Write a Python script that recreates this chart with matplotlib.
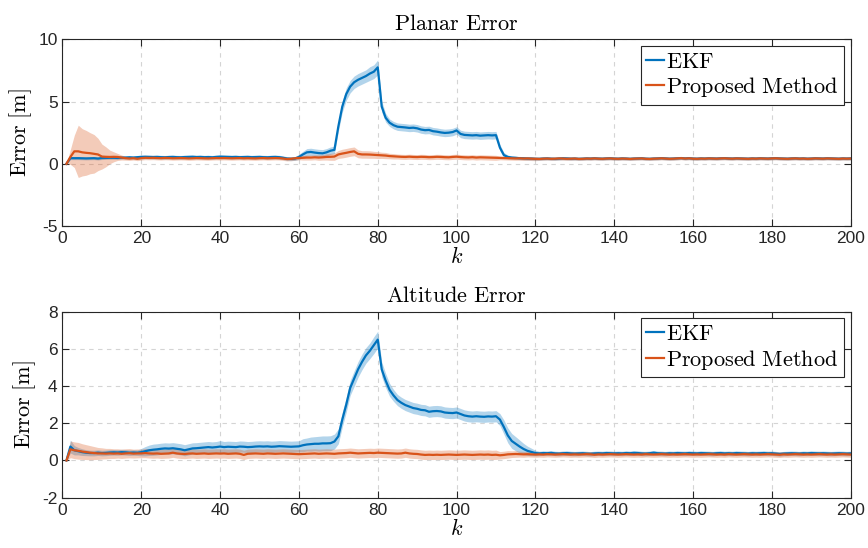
import numpy as np
import matplotlib
matplotlib.use('Agg')
import matplotlib.pyplot as plt

# time steps k = 1..200
k = np.arange(1, 201)

# -------- Planar error --------
planar_ekf = [
    0.00, 0.45, 0.45, 0.45, 0.44, 0.43, 0.44, 0.45, 0.42, 0.46, 0.47, 0.48, 0.48, 0.47, 0.49, 0.50, 0.52, 0.50, 0.53, 0.55,
    0.56, 0.55, 0.54, 0.55, 0.53, 0.52, 0.54, 0.55, 0.53, 0.52, 0.54, 0.55, 0.56, 0.54, 0.55, 0.53, 0.54, 0.52, 0.55, 0.57,
    0.56, 0.55, 0.54, 0.55, 0.53, 0.54, 0.55, 0.53, 0.54, 0.55, 0.53, 0.52, 0.54, 0.55, 0.53, 0.48, 0.42, 0.40, 0.42, 0.55,
    0.75, 0.92, 0.95, 0.90, 0.86, 0.84, 0.92, 1.05, 1.12, 3.00, 4.60, 5.60, 6.20, 6.55, 6.75, 6.90, 7.05, 7.25, 7.40, 7.75,
    4.60, 3.70, 3.30, 3.10, 2.98, 2.95, 2.92, 2.88, 2.90, 2.85, 2.75, 2.70, 2.72, 2.62, 2.58, 2.52, 2.48, 2.50, 2.55, 2.68,
    2.40, 2.32, 2.30, 2.28, 2.30, 2.26, 2.28, 2.30, 2.28, 2.30, 1.30, 0.70, 0.55, 0.50, 0.48, 0.45, 0.44, 0.42, 0.42, 0.40,
    0.40, 0.42, 0.43, 0.41, 0.40, 0.42, 0.44, 0.43, 0.41, 0.42, 0.40, 0.41, 0.43, 0.42, 0.44, 0.42, 0.41, 0.43, 0.44, 0.42,
    0.41, 0.43, 0.42, 0.40, 0.42, 0.43, 0.44, 0.41, 0.40, 0.42, 0.43, 0.45, 0.43, 0.41, 0.42, 0.44, 0.46, 0.43, 0.45, 0.42,
    0.41, 0.43, 0.42, 0.44, 0.43, 0.42, 0.44, 0.45, 0.43, 0.42, 0.44, 0.43, 0.42, 0.41, 0.43, 0.42, 0.44, 0.43, 0.42, 0.44,
    0.45, 0.43, 0.42, 0.41, 0.43, 0.44, 0.42, 0.43, 0.41, 0.42, 0.44, 0.43, 0.42, 0.44, 0.43, 0.42, 0.41, 0.43, 0.42, 0.43,
]
planar_ekf_band = [
    0.00, 0.12, 0.12, 0.12, 0.12, 0.12, 0.12, 0.12, 0.12, 0.12, 0.12, 0.12, 0.12, 0.12, 0.12, 0.12, 0.13, 0.13, 0.14, 0.15,
    0.15, 0.15, 0.15, 0.15, 0.15, 0.15, 0.15, 0.15, 0.15, 0.15, 0.15, 0.15, 0.15, 0.15, 0.15, 0.15, 0.15, 0.15, 0.15, 0.15,
    0.15, 0.15, 0.15, 0.15, 0.15, 0.15, 0.15, 0.15, 0.15, 0.15, 0.15, 0.15, 0.15, 0.15, 0.15, 0.15, 0.15, 0.15, 0.15, 0.20,
    0.25, 0.30, 0.30, 0.30, 0.30, 0.30, 0.30, 0.30, 0.30, 0.40, 0.45, 0.50, 0.50, 0.50, 0.50, 0.50, 0.50, 0.55, 0.55, 0.60,
    0.45, 0.35, 0.30, 0.30, 0.30, 0.30, 0.30, 0.30, 0.30, 0.30, 0.30, 0.30, 0.30, 0.30, 0.30, 0.30, 0.30, 0.30, 0.30, 0.30,
    0.30, 0.30, 0.30, 0.30, 0.30, 0.30, 0.30, 0.30, 0.30, 0.30, 0.25, 0.20, 0.15, 0.12, 0.12, 0.12, 0.12, 0.12, 0.12, 0.12,
    0.12, 0.12, 0.12, 0.12, 0.12, 0.12, 0.12, 0.12, 0.12, 0.12, 0.12, 0.12, 0.12, 0.12, 0.12, 0.12, 0.12, 0.12, 0.12, 0.12,
    0.12, 0.12, 0.12, 0.12, 0.12, 0.12, 0.12, 0.12, 0.12, 0.12, 0.12, 0.12, 0.12, 0.12, 0.12, 0.12, 0.12, 0.12, 0.12, 0.12,
    0.12, 0.12, 0.12, 0.12, 0.12, 0.12, 0.12, 0.12, 0.12, 0.12, 0.12, 0.12, 0.12, 0.12, 0.12, 0.12, 0.12, 0.12, 0.12, 0.12,
    0.12, 0.12, 0.12, 0.12, 0.12, 0.12, 0.12, 0.12, 0.12, 0.12, 0.12, 0.12, 0.12, 0.12, 0.12, 0.12, 0.12, 0.12, 0.12, 0.12,
]
planar_prop = [
    0.00, 0.55, 1.00, 1.00, 0.92, 0.88, 0.85, 0.80, 0.75, 0.58, 0.56, 0.55, 0.56, 0.55, 0.50, 0.45, 0.42, 0.45, 0.40, 0.45,
    0.48, 0.47, 0.48, 0.46, 0.45, 0.47, 0.46, 0.44, 0.45, 0.46, 0.45, 0.43, 0.44, 0.46, 0.45, 0.44, 0.43, 0.45, 0.46, 0.45,
    0.46, 0.45, 0.44, 0.45, 0.46, 0.44, 0.45, 0.44, 0.43, 0.45, 0.46, 0.44, 0.45, 0.46, 0.45, 0.42, 0.38, 0.40, 0.44, 0.47,
    0.48, 0.50, 0.50, 0.52, 0.50, 0.52, 0.55, 0.56, 0.58, 0.75, 0.82, 0.88, 0.95, 1.00, 0.80, 0.75, 0.75, 0.74, 0.72, 0.70,
    0.68, 0.66, 0.62, 0.60, 0.58, 0.56, 0.55, 0.57, 0.55, 0.54, 0.56, 0.55, 0.53, 0.54, 0.56, 0.55, 0.53, 0.52, 0.55, 0.57,
    0.54, 0.52, 0.51, 0.53, 0.50, 0.52, 0.51, 0.50, 0.49, 0.48, 0.47, 0.46, 0.45, 0.44, 0.43, 0.44, 0.42, 0.43, 0.41, 0.40,
    0.39, 0.41, 0.42, 0.40, 0.41, 0.43, 0.42, 0.40, 0.41, 0.42, 0.39, 0.40, 0.42, 0.41, 0.43, 0.41, 0.40, 0.42, 0.43, 0.41,
    0.40, 0.42, 0.41, 0.39, 0.41, 0.42, 0.43, 0.40, 0.39, 0.41, 0.42, 0.44, 0.42, 0.40, 0.41, 0.43, 0.45, 0.42, 0.44, 0.41,
    0.40, 0.42, 0.41, 0.43, 0.42, 0.41, 0.43, 0.44, 0.42, 0.41, 0.43, 0.42, 0.41, 0.40, 0.42, 0.41, 0.43, 0.42, 0.41, 0.43,
    0.44, 0.42, 0.41, 0.40, 0.42, 0.43, 0.41, 0.42, 0.40, 0.41, 0.43, 0.42, 0.41, 0.43, 0.42, 0.41, 0.40, 0.42, 0.41, 0.42,
]
planar_prop_band = [
    0.00, 0.60, 1.30, 2.10, 1.90, 1.80, 1.65, 1.55, 1.30, 1.00, 0.80, 0.55, 0.40, 0.28, 0.20, 0.16, 0.15, 0.15, 0.15, 0.15,
    0.15, 0.15, 0.15, 0.15, 0.15, 0.15, 0.15, 0.15, 0.15, 0.15, 0.15, 0.15, 0.15, 0.15, 0.15, 0.15, 0.15, 0.15, 0.15, 0.15,
    0.15, 0.15, 0.15, 0.15, 0.15, 0.15, 0.15, 0.15, 0.15, 0.15, 0.15, 0.15, 0.15, 0.15, 0.15, 0.15, 0.15, 0.15, 0.15, 0.15,
    0.18, 0.20, 0.20, 0.20, 0.22, 0.22, 0.25, 0.28, 0.30, 0.32, 0.35, 0.35, 0.35, 0.35, 0.32, 0.30, 0.30, 0.30, 0.28, 0.28,
    0.25, 0.25, 0.22, 0.22, 0.20, 0.20, 0.20, 0.20, 0.20, 0.20, 0.20, 0.20, 0.20, 0.20, 0.20, 0.20, 0.20, 0.20, 0.20, 0.20,
    0.20, 0.20, 0.20, 0.20, 0.20, 0.20, 0.20, 0.20, 0.20, 0.20, 0.15, 0.15, 0.15, 0.15, 0.15, 0.15, 0.15, 0.15, 0.15, 0.15,
    0.12, 0.12, 0.12, 0.12, 0.12, 0.12, 0.12, 0.12, 0.12, 0.12, 0.12, 0.12, 0.12, 0.12, 0.12, 0.12, 0.12, 0.12, 0.12, 0.12,
    0.12, 0.12, 0.12, 0.12, 0.12, 0.12, 0.12, 0.12, 0.12, 0.12, 0.12, 0.12, 0.12, 0.12, 0.12, 0.12, 0.12, 0.12, 0.12, 0.12,
    0.12, 0.12, 0.12, 0.12, 0.12, 0.12, 0.12, 0.12, 0.12, 0.12, 0.12, 0.12, 0.12, 0.12, 0.12, 0.12, 0.12, 0.12, 0.12, 0.12,
    0.12, 0.12, 0.12, 0.12, 0.12, 0.12, 0.12, 0.12, 0.12, 0.12, 0.12, 0.12, 0.12, 0.12, 0.12, 0.12, 0.12, 0.12, 0.12, 0.12,
]

# -------- Altitude error --------
alt_ekf = [
    0.00, 0.75, 0.55, 0.50, 0.45, 0.42, 0.40, 0.40, 0.42, 0.40, 0.41, 0.43, 0.44, 0.43, 0.45, 0.44, 0.42, 0.43, 0.42, 0.45,
    0.50, 0.55, 0.58, 0.60, 0.63, 0.65, 0.64, 0.66, 0.63, 0.60, 0.55, 0.60, 0.65, 0.66, 0.68, 0.70, 0.72, 0.70, 0.72, 0.75,
    0.72, 0.74, 0.73, 0.72, 0.75, 0.74, 0.72, 0.73, 0.75, 0.76, 0.75, 0.76, 0.74, 0.75, 0.77, 0.76, 0.75, 0.74, 0.75, 0.76,
    0.82, 0.86, 0.88, 0.90, 0.90, 0.92, 0.92, 0.93, 1.02, 1.30, 2.20, 3.00, 3.90, 4.40, 4.90, 5.30, 5.65, 5.90, 6.20, 6.50,
    4.90, 4.30, 3.80, 3.50, 3.25, 3.10, 2.98, 2.90, 2.82, 2.78, 2.72, 2.70, 2.62, 2.65, 2.66, 2.64, 2.58, 2.56, 2.55, 2.58,
    2.50, 2.42, 2.38, 2.36, 2.38, 2.36, 2.35, 2.37, 2.36, 2.38, 2.20, 1.80, 1.35, 1.05, 0.90, 0.75, 0.62, 0.52, 0.46, 0.40,
    0.38, 0.40, 0.39, 0.41, 0.38, 0.37, 0.39, 0.40, 0.38, 0.37, 0.38, 0.39, 0.37, 0.36, 0.38, 0.39, 0.38, 0.40, 0.39, 0.38,
    0.39, 0.38, 0.40, 0.39, 0.41, 0.40, 0.38, 0.37, 0.39, 0.42, 0.39, 0.38, 0.37, 0.39, 0.38, 0.40, 0.39, 0.38, 0.40, 0.39,
    0.38, 0.40, 0.39, 0.38, 0.37, 0.39, 0.40, 0.38, 0.39, 0.38, 0.40, 0.39, 0.38, 0.37, 0.39, 0.38, 0.39, 0.40, 0.38, 0.39,
    0.37, 0.35, 0.37, 0.38, 0.39, 0.38, 0.37, 0.39, 0.38, 0.40, 0.39, 0.38, 0.39, 0.38, 0.37, 0.38, 0.39, 0.38, 0.37, 0.38,
]
alt_ekf_band = [
    0.00, 0.35, 0.25, 0.20, 0.18, 0.16, 0.15, 0.15, 0.15, 0.15, 0.15, 0.15, 0.15, 0.15, 0.15, 0.15, 0.15, 0.15, 0.15, 0.20,
    0.25, 0.28, 0.30, 0.30, 0.30, 0.30, 0.30, 0.30, 0.30, 0.30, 0.30, 0.30, 0.30, 0.30, 0.30, 0.30, 0.30, 0.30, 0.30, 0.32,
    0.30, 0.30, 0.30, 0.30, 0.30, 0.30, 0.30, 0.30, 0.30, 0.30, 0.30, 0.30, 0.30, 0.30, 0.30, 0.30, 0.30, 0.30, 0.30, 0.30,
    0.35, 0.35, 0.38, 0.38, 0.40, 0.40, 0.40, 0.40, 0.40, 0.40, 0.40, 0.40, 0.40, 0.42, 0.42, 0.42, 0.42, 0.42, 0.45, 0.45,
    0.40, 0.38, 0.35, 0.32, 0.30, 0.30, 0.30, 0.30, 0.30, 0.30, 0.30, 0.30, 0.30, 0.30, 0.30, 0.30, 0.30, 0.30, 0.30, 0.30,
    0.30, 0.30, 0.30, 0.30, 0.30, 0.30, 0.30, 0.30, 0.30, 0.30, 0.32, 0.38, 0.40, 0.40, 0.38, 0.35, 0.30, 0.25, 0.20, 0.15,
    0.12, 0.12, 0.12, 0.12, 0.12, 0.12, 0.12, 0.12, 0.12, 0.12, 0.12, 0.12, 0.12, 0.12, 0.12, 0.12, 0.12, 0.12, 0.12, 0.12,
    0.12, 0.12, 0.12, 0.12, 0.12, 0.12, 0.12, 0.12, 0.12, 0.12, 0.12, 0.12, 0.12, 0.12, 0.12, 0.12, 0.12, 0.12, 0.12, 0.12,
    0.12, 0.12, 0.12, 0.12, 0.12, 0.12, 0.12, 0.12, 0.12, 0.12, 0.12, 0.12, 0.12, 0.12, 0.12, 0.12, 0.12, 0.12, 0.12, 0.12,
    0.12, 0.12, 0.12, 0.12, 0.12, 0.12, 0.12, 0.12, 0.12, 0.12, 0.12, 0.12, 0.12, 0.12, 0.12, 0.12, 0.12, 0.12, 0.12, 0.12,
]
alt_prop = [
    0.00, 0.60, 0.55, 0.52, 0.48, 0.45, 0.42, 0.40, 0.38, 0.38, 0.37, 0.38, 0.37, 0.38, 0.36, 0.38, 0.39, 0.37, 0.38, 0.38,
    0.40, 0.38, 0.37, 0.38, 0.36, 0.37, 0.38, 0.42, 0.38, 0.36, 0.35, 0.37, 0.38, 0.36, 0.37, 0.38, 0.36, 0.37, 0.38, 0.37,
    0.38, 0.36, 0.37, 0.38, 0.36, 0.30, 0.36, 0.37, 0.38, 0.37, 0.36, 0.38, 0.37, 0.36, 0.37, 0.38, 0.37, 0.36, 0.35, 0.34,
    0.35, 0.36, 0.37, 0.38, 0.36, 0.37, 0.38, 0.37, 0.36, 0.38, 0.39, 0.40, 0.42, 0.40, 0.38, 0.39, 0.40, 0.41, 0.40, 0.42,
    0.41, 0.40, 0.39, 0.38, 0.37, 0.38, 0.42, 0.38, 0.36, 0.35, 0.32, 0.30, 0.31, 0.30, 0.31, 0.30, 0.31, 0.32, 0.31, 0.30,
    0.31, 0.32, 0.31, 0.30, 0.31, 0.32, 0.31, 0.32, 0.30, 0.31, 0.28, 0.30, 0.33, 0.34, 0.35, 0.34, 0.33, 0.34, 0.33, 0.32,
    0.33, 0.32, 0.34, 0.33, 0.32, 0.33, 0.34, 0.33, 0.32, 0.33, 0.32, 0.33, 0.34, 0.33, 0.31, 0.33, 0.32, 0.33, 0.34, 0.33,
    0.32, 0.33, 0.34, 0.33, 0.32, 0.33, 0.32, 0.34, 0.33, 0.32, 0.33, 0.34, 0.33, 0.32, 0.33, 0.32, 0.33, 0.34, 0.33, 0.32,
    0.33, 0.32, 0.33, 0.34, 0.33, 0.32, 0.33, 0.32, 0.34, 0.33, 0.32, 0.33, 0.34, 0.33, 0.32, 0.33, 0.32, 0.33, 0.34, 0.33,
    0.32, 0.31, 0.33, 0.32, 0.33, 0.34, 0.33, 0.32, 0.33, 0.32, 0.33, 0.34, 0.33, 0.32, 0.33, 0.32, 0.33, 0.34, 0.33, 0.32,
]
alt_prop_band = [
    0.00, 0.45, 0.45, 0.45, 0.42, 0.40, 0.38, 0.35, 0.32, 0.30, 0.28, 0.27, 0.26, 0.25, 0.25, 0.25, 0.25, 0.24, 0.24, 0.23,
    0.25, 0.25, 0.25, 0.25, 0.25, 0.25, 0.25, 0.25, 0.25, 0.25, 0.25, 0.25, 0.25, 0.25, 0.25, 0.25, 0.25, 0.25, 0.25, 0.25,
    0.25, 0.25, 0.25, 0.25, 0.25, 0.25, 0.25, 0.25, 0.25, 0.25, 0.25, 0.25, 0.25, 0.25, 0.25, 0.25, 0.25, 0.25, 0.25, 0.25,
    0.25, 0.25, 0.25, 0.25, 0.25, 0.25, 0.25, 0.25, 0.25, 0.25, 0.25, 0.25, 0.25, 0.25, 0.25, 0.25, 0.25, 0.25, 0.25, 0.25,
    0.25, 0.25, 0.25, 0.25, 0.25, 0.25, 0.25, 0.25, 0.25, 0.25, 0.25, 0.25, 0.25, 0.25, 0.25, 0.25, 0.25, 0.25, 0.25, 0.25,
    0.25, 0.25, 0.25, 0.25, 0.25, 0.25, 0.25, 0.25, 0.25, 0.25, 0.20, 0.20, 0.20, 0.18, 0.18, 0.16, 0.16, 0.15, 0.15, 0.15,
    0.15, 0.15, 0.15, 0.15, 0.15, 0.15, 0.15, 0.15, 0.15, 0.15, 0.15, 0.15, 0.15, 0.15, 0.15, 0.15, 0.15, 0.15, 0.15, 0.15,
    0.15, 0.15, 0.15, 0.15, 0.15, 0.15, 0.15, 0.15, 0.15, 0.15, 0.15, 0.15, 0.15, 0.15, 0.15, 0.15, 0.15, 0.15, 0.15, 0.15,
    0.15, 0.15, 0.15, 0.15, 0.15, 0.15, 0.15, 0.15, 0.15, 0.15, 0.15, 0.15, 0.15, 0.15, 0.15, 0.15, 0.15, 0.15, 0.15, 0.15,
    0.15, 0.15, 0.15, 0.15, 0.15, 0.15, 0.15, 0.15, 0.15, 0.15, 0.15, 0.15, 0.15, 0.15, 0.15, 0.15, 0.15, 0.15, 0.15, 0.15,
]

BLUE = '#0072BD'
ORANGE = '#D95319'
AXC = '#262626'

plt.rcParams['mathtext.fontset'] = 'cm'
plt.rcParams['font.family'] = ['Liberation Sans', 'DejaVu Sans']
plt.rcParams['axes.unicode_minus'] = False


def draw_panel(ax, ekf, ekf_band, prop, prop_band, title, ylim, yticks):
    ekf = np.array(ekf)
    ekf_band = np.array(ekf_band)
    prop = np.array(prop)
    prop_band = np.array(prop_band)

    ax.fill_between(k, ekf - ekf_band, ekf + ekf_band, color=BLUE, alpha=0.3, lw=0)
    ax.plot(k, ekf, color=BLUE, lw=1.6, label=r'$\mathrm{EKF}$')
    ax.fill_between(k, prop - prop_band, prop + prop_band, color=ORANGE, alpha=0.3, lw=0)
    ax.plot(k, prop, color=ORANGE, lw=1.6, label=r'$\mathrm{Proposed\ Method}$')

    ax.set_xlim(0, 200)
    ax.set_xticks(range(0, 201, 20))
    ax.set_ylim(*ylim)
    ax.set_yticks(yticks)

    ax.set_title(title, fontsize=16, pad=7)
    ax.set_xlabel(r'$k$', fontsize=16, labelpad=1)
    ax.set_ylabel(r'$\mathrm{Error\ [m]}$', fontsize=16, labelpad=3)

    ax.set_axisbelow(True)
    ax.grid(True, color='#d4d4d4', linestyle=(0, (4, 4)), linewidth=0.8)
    ax.tick_params(direction='in', top=True, right=True, length=5, width=0.8,
                   labelsize=12.5, color=AXC, labelcolor=AXC)
    for s in ax.spines.values():
        s.set_color(AXC)
        s.set_linewidth(0.8)

    leg = ax.legend(loc='upper right', fontsize=16, fancybox=False, framealpha=1,
                    edgecolor=AXC, handlelength=0.8, handletextpad=0.1,
                    borderpad=0.25, labelspacing=0.12, borderaxespad=0.3)
    leg.get_frame().set_linewidth(0.8)


fig = plt.figure(figsize=(8.68, 5.48), dpi=100)
ax1 = fig.add_axes([0.072, 0.5876, 0.908, 0.3406])
ax2 = fig.add_axes([0.072, 0.0918, 0.908, 0.3394])

draw_panel(ax1, planar_ekf, planar_ekf_band, planar_prop, planar_prop_band,
           r'$\mathrm{Planar\ Error}$', (-5, 10), [-5, 0, 5, 10])
draw_panel(ax2, alt_ekf, alt_ekf_band, alt_prop, alt_prop_band,
           r'$\mathrm{Altitude\ Error}$', (-2, 8), [-2, 0, 2, 4, 6, 8])

fig.savefig('out.png', dpi=100)
